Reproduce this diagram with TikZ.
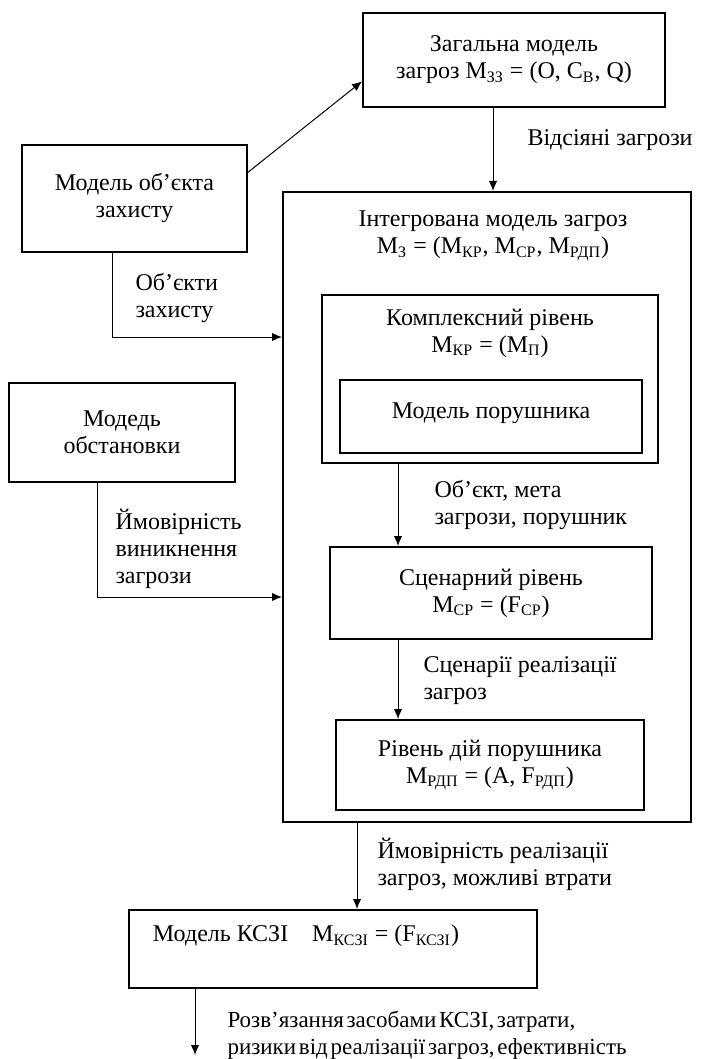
\documentclass[tikz,border=0pt]{standalone}
\usepackage{fontspec}
\setmainfont{Liberation Serif}
\usepackage{tikz}
\usetikzlibrary{arrows.meta}
\newcommand{\ix}[1]{\textsubscript{#1}}
\tikzset{
	model/.style={rectangle,draw,line width=1pt,align=center,inner sep=2pt},
	lbl/.style={align=left,inner sep=0pt,anchor=west},
	every node/.append style={font=\fontsize{12}{13.5}\selectfont}
}
\begin{document}
\begin{tikzpicture}[->,>={Latex[length=5pt,width=4.2pt]},x=0.5pt,y=-0.5pt,line width=0.5pt]
	    \useasboundingbox (0,0) rectangle (704,1059);

	    \node[model,minimum width=151pt,minimum height=47pt] (zag) at (514,60)
	        {Загальна модель\\загроз M\ix{ЗЗ} = (O, C\ix{В}, Q)};
	    \node[model,minimum width=112.5pt,minimum height=53.5pt] (obj) at (134.5,198.5)
	        {Модель об’єкта\\захисту};
	    \node[model,minimum width=113pt,minimum height=49.5pt] (obst) at (122,432.5)
	        {Модедь\\обстановки};

	    \node[model,minimum width=204pt,minimum height=315pt] (integ) at (487,507) {};
	    \node[align=center] (integtxt) at (493,236)
	        {Інтегрована модель загроз\\M\ix{З} = (M\ix{КР}, M\ix{СР}, M\ix{РДП})};
	    \node[model,minimum width=168pt,minimum height=84pt] (kompl) at (490,379) {};
	    \node[align=center] (kompltxt) at (490,333)
	        {Комплексний рівень\\M\ix{КР} = (M\ix{П})};
	    \node[model,minimum width=151pt,minimum height=36.5pt,text depth=6pt] (poru) at (491,416.5)
	        {Модель порушника};
	    \node[model,minimum width=161pt,minimum height=46pt] (scen) at (491,593)
	        {Сценарний рівень\\M\ix{СР} = (F\ix{СР})};
	    \node[model,minimum width=154pt,minimum height=45pt] (rdp) at (490,765)
	        {Рівень дій порушника\\M\ix{РДП} = (A, F\ix{РДП})};

	    \node[model,minimum width=204pt,minimum height=39pt] (kszi) at (333,949) {};
	    \node (kszitxt) at (306,936) {Модель КСЗІ\hspace{1em}M\ix{КСЗІ} = (F\ix{КСЗІ})};

	    % labels of the flows
	    \node[lbl] (l1) at (527,140) {Відсіяні загрози};
	    \node[lbl] (l2) at (135,298) {Об’єкти\\захисту};
	    \node[lbl] (l3) at (115,549) {Ймовірність\\виникнення\\загрози};
	    \node[lbl] (l4) at (434,505) {Об’єкт, мета\\загрози, порушник};
	    \node[lbl] (l5) at (423,681) {Сценарії реалізації\\загроз};
	    \node[lbl] (l6) at (377,864) {Ймовірність реалізації\\загроз, можливі втрати};
	    \node[lbl,font={\fontsize{11.5}{13.5}\selectfont\spaceskip=0.12em\relax}] (l7) at (227,1035)
	        {Розв’язання засобами КСЗІ, затрати,\\ризики від реалізації загроз, ефективність};

	    \coordinate (c1) at (112,337);
	    \coordinate (c2) at (97,597);
	    \coordinate (c3) at (398,505);
	    \coordinate (c4) at (357,866);
	    \coordinate (out) at (195,1055);

	    \path
	      (obj.13) edge (zag.188)
	      (zag.south -| integtxt) edge (integ.north -| integtxt)
	      (kompl.south -| c3) edge (scen.north -| c3)
	      (scen.south -| c3) edge (rdp.north -| c3)
	      (integ.south -| c4) edge (kszi.north -| c4)
	      (kszi.south -| out) edge (out);
	    \draw (obj.south -| c1) |- (c1 -| integ.west);
	    \draw (obst.south -| c2) |- (c2 -| integ.west);
	  \end{tikzpicture}
\end{document}
